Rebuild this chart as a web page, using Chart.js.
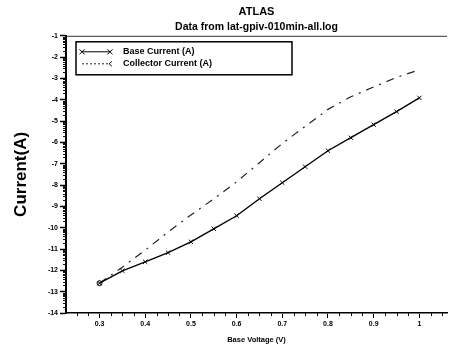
<!DOCTYPE html>
<html>
<head>
<meta charset="utf-8">
<script src="https://cdn.jsdelivr.net/npm/chart.js@4/dist/chart.umd.min.js"></script>
<style>
  html, body { margin: 0; padding: 0; background: #fff; }
  #wrap { width: 452px; height: 347px; }
</style>
</head>
<body>
<div id="wrap"><canvas id="chart"></canvas></div>
<script>
// Values (log10 of current)
const voltages = [0.3, 0.35, 0.4, 0.45, 0.5, 0.55, 0.6, 0.65, 0.7, 0.75, 0.8, 0.85, 0.9, 0.95, 1.0];
const baseCurrent = [-12.6, -12.02, -11.6, -11.17, -10.66, -10.05, -9.44, -8.64, -7.89, -7.14, -6.39, -5.78, -5.17, -4.56, -3.91];
const collectorCurrent = [-12.6, -11.85, -11.05, -10.2, -9.4, -8.65, -7.85, -6.95, -6.05, -5.25, -4.45, -3.86, -3.4, -2.95, -2.6];
const xTicks = [0.3, 0.4, 0.5, 0.6, 0.7, 0.8, 0.9, 1];
const yTicks = [-1, -2, -3, -4, -5, -6, -7, -8, -9, -10, -11, -12, -13, -14];

const FONT = "'Liberation Sans', Arial, sans-serif";

const pairs = ys => voltages.map((v, i) => ({ x: v, y: ys[i] }));

// minor ticks (log decades on y, 0.025 V on x), top frame line and boxed legend
const decorations = {
  id: 'decorations',
  afterDraw(chart) {
    const { ctx, chartArea: a, scales: { x, y } } = chart;
    ctx.save();
    ctx.strokeStyle = '#111';
    ctx.lineWidth = 1;

    // y minor ticks
    ctx.beginPath();
    for (let d = -14; d < -1; d++) {
      for (let k = 2; k <= 9; k++) {
        const py = Math.round(y.getPixelForValue(d + Math.log10(k))) + 0.5;
        ctx.moveTo(a.left - 3, py);
        ctx.lineTo(a.left, py);
      }
    }
    // x minor ticks
    for (let i = 10; i <= 42; i++) {
      const v = i * 0.025;
      if (i % 4 === 0) continue;
      const px = Math.round(x.getPixelForValue(v)) + 0.5;
      if (px < a.left || px > a.right) continue;
      ctx.moveTo(px, a.bottom);
      ctx.lineTo(px, a.bottom + 3);
    }
    ctx.stroke();

    // top frame line
    ctx.strokeStyle = '#333';
    ctx.beginPath();
    ctx.moveTo(a.left, a.top + 0.5);
    ctx.lineTo(a.right, a.top + 0.5);
    ctx.stroke();

    // legend box
    const bx = a.left + 10, by = a.top + 6, bw = 216, bh = 33;
    ctx.strokeStyle = '#000';
    ctx.lineWidth = 1.5;
    ctx.strokeRect(bx, by, bw, bh);
    ctx.font = 'bold 9px ' + FONT;
    ctx.fillStyle = '#000';
    ctx.textBaseline = 'middle';
    chart.data.datasets.forEach((ds, i) => {
      const ly = by + 10 + i * 12;
      ctx.save();
      ctx.strokeStyle = ds.borderColor;
      ctx.lineWidth = 1;
      ctx.setLineDash(i === 0 ? [] : [2, 2]);
      ctx.beginPath();
      ctx.moveTo(bx + 6, ly);
      ctx.lineTo(bx + 34, ly);
      ctx.stroke();
      ctx.setLineDash([]);
      ctx.beginPath();
      if (i === 0) {
        [bx + 6, bx + 34].forEach(cx => {
          ctx.moveTo(cx - 2.5, ly - 2.5); ctx.lineTo(cx + 2.5, ly + 2.5);
          ctx.moveTo(cx - 2.5, ly + 2.5); ctx.lineTo(cx + 2.5, ly - 2.5);
        });
      } else {
        ctx.moveTo(bx + 36, ly - 2.5); ctx.lineTo(bx + 33, ly); ctx.lineTo(bx + 36, ly + 2.5);
      }
      ctx.stroke();
      ctx.restore();
      ctx.fillText(ds.label, bx + 47, ly);
    });
    ctx.restore();
  }
};

new Chart(document.getElementById('chart'), {
  type: 'line',
  data: {
    datasets: [
      {
        label: 'Base Current (A)',
        data: pairs(baseCurrent),
        borderColor: '#000',
        borderWidth: 1.4,
        pointStyle: 'crossRot',
        pointRadius: 3,
        pointBorderColor: '#000',
        pointBorderWidth: 1,
        tension: 0,
      },
      {
        label: 'Collector Current (A)',
        data: pairs(collectorCurrent),
        borderColor: '#222',
        borderWidth: 1.2,
        borderDash: [8, 6, 2, 6],
        pointStyle: 'circle',
        pointRadius: voltages.map((v, i) => (i === 0 ? 2.5 : 0)),
        pointBorderColor: '#000',
        pointBackgroundColor: '#fff',
        pointBorderWidth: 1,
        tension: 0,
      },
    ],
  },
  options: {
    responsive: true,
    maintainAspectRatio: false,
    animation: false,
    layout: { padding: { left: 0, right: 0, top: 0, bottom: 0 } },
    plugins: {
      legend: { display: false },
      tooltip: { enabled: false },
      title: {
        display: true,
        text: 'ATLAS',
        fullSize: false,
        color: '#000',
        font: { family: FONT, size: 11, weight: 'bold' },
        padding: { top: 5, bottom: 0 },
      },
      subtitle: {
        display: true,
        text: 'Data from lat-gpiv-010min-all.log',
        fullSize: false,
        color: '#000',
        font: { family: FONT, size: 10.5, weight: 'bold' },
        padding: { top: 3, bottom: 2 },
      },
    },
    scales: {
      x: {
        type: 'linear',
        min: 0.2266,
        max: 1.0605,
        afterBuildTicks: s => { s.ticks = xTicks.map(v => ({ value: v })); },
        afterFit: s => { s.height = 34; },
        grid: { drawOnChartArea: false, drawTicks: true, tickLength: 5, color: '#000', tickWidth: 1 },
        border: { display: true, color: '#000', width: 1.5 },
        ticks: {
          color: '#000',
          padding: 2,
          maxRotation: 0,
          font: { family: FONT, size: 7, weight: 'bold' },
          callback: v => (v === 1 ? '1' : v.toFixed(1)),
        },
        title: {
          display: true,
          text: 'Base Voltage (V)',
          color: '#000',
          font: { family: FONT, size: 7.5, weight: 'bold' },
          padding: { top: 2, bottom: 3 },
        },
      },
      y: {
        type: 'linear',
        min: -14,
        max: -1,
        afterBuildTicks: s => { s.ticks = yTicks.map(v => ({ value: v })); },
        afterFit: s => { s.width = 66; },
        grid: { drawOnChartArea: false, drawTicks: true, tickLength: 6, color: '#000', tickWidth: 1.5 },
        border: { display: true, color: '#000', width: 2 },
        ticks: {
          color: '#000',
          padding: 2,
          font: { family: FONT, size: 7, weight: 'bold' },
          callback: v => String(v),
        },
        title: {
          display: true,
          text: 'Current(A)',
          color: '#000',
          font: { family: FONT, size: 17, weight: 'bold' },
          padding: { top: 11, bottom: 0 },
        },
      },
    },
  },
  plugins: [decorations],
});
</script>
</body>
</html>
